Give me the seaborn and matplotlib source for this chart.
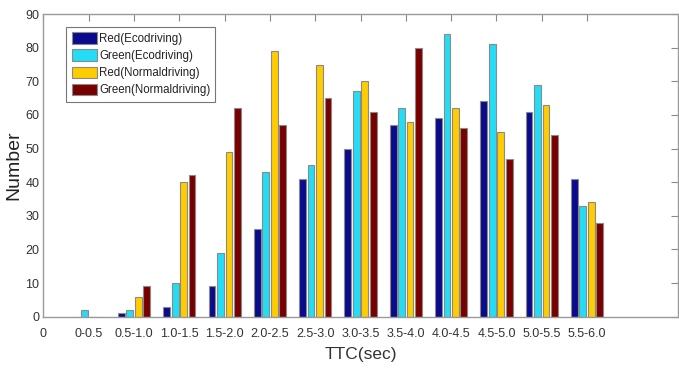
import matplotlib
matplotlib.use("Agg")
import matplotlib.pyplot as plt
import pandas as pd
import seaborn as sns

# TTC bins and counts per signal/driving mode
categories = ["0-0.5", "0.5-1.0", "1.0-1.5", "1.5-2.0", "2.0-2.5", "2.5-3.0",
              "3.0-3.5", "3.5-4.0", "4.0-4.5", "4.5-5.0", "5.0-5.5", "5.5-6.0"]
series_names = ["Red(Ecodriving)", "Green(Ecodriving)",
                "Red(Normaldriving)", "Green(Normaldriving)"]
red_eco = [0, 1, 3, 9, 26, 41, 50, 57, 59, 64, 61, 41]
green_eco = [2, 2, 10, 19, 43, 45, 67, 62, 84, 81, 69, 33]
red_normal = [0, 6, 40, 49, 79, 75, 70, 58, 62, 55, 63, 34]
green_normal = [0, 9, 42, 62, 57, 65, 61, 80, 56, 47, 54, 28]
y_ticks = [0, 10, 20, 30, 40, 50, 60, 70, 80, 90]

colors = ["#0A0A8C", "#22DDF5", "#FFCC00", "#7A0000"]

frames = []
for name, vals in zip(series_names,
                      [red_eco, green_eco, red_normal, green_normal]):
    frames.append(pd.DataFrame({"TTC": categories, "Number": vals, "Series": name}))
df = pd.concat(frames, ignore_index=True)

sns.set_style("white")
plt.rcParams["font.family"] = ["Liberation Sans", "DejaVu Sans"]

fig = plt.figure(figsize=(6.79, 3.70), dpi=100)
ax = fig.add_axes([0.064, 0.144, 0.934, 0.818])

sns.barplot(data=df, x="TTC", y="Number", hue="Series", order=categories,
            hue_order=series_names, palette=colors, width=0.75, gap=0.2,
            edgecolor="#8a8a8a", linewidth=0.8, saturation=1, ax=ax,
            errorbar=None)

ax.set_xlim(-1, 13)
ax.set_ylim(0, 90)
ax.set_xticks(range(-1, len(categories)))
ax.set_xticklabels(["0"] + categories)
ax.set_yticks(y_ticks)

for side in ["left", "right", "top", "bottom"]:
    ax.spines[side].set_visible(True)
    ax.spines[side].set_color("#9a9a9a")
    ax.spines[side].set_linewidth(1.0)

ax.tick_params(axis="both", which="both", direction="in", length=5,
               color="#8a8a8a", width=0.8, labelsize=9,
               labelcolor="#333333", top=True, right=True)
ax.tick_params(axis="x", pad=8)
ax.tick_params(axis="y", pad=3)

ax.set_xlabel("TTC(sec)", fontsize=12.5, color="#333333", labelpad=5)
ax.set_ylabel("Number", fontsize=14, color="#222222", labelpad=2)

leg = ax.legend(loc="upper left", bbox_to_anchor=(0.0363, 0.957),
                borderaxespad=0, fontsize=8.3, frameon=True, fancybox=False,
                handlelength=2.17, handleheight=1.13, handletextpad=0.2,
                labelspacing=0.4, borderpad=0.45)
leg.get_frame().set_edgecolor("#555555")
leg.get_frame().set_linewidth(0.8)
for t in leg.get_texts():
    t.set_color("#222222")

fig.savefig("out.png", dpi=100)
